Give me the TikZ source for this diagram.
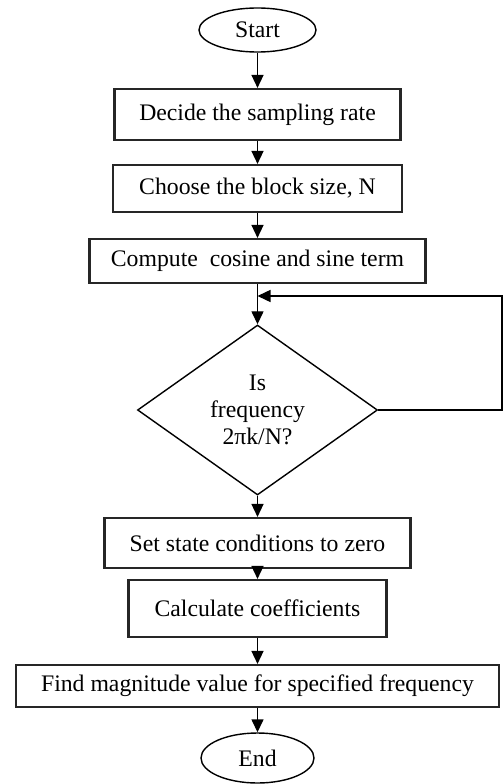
\documentclass[tikz,border=0pt]{standalone}
\usepackage{fontspec}
\setmainfont{Liberation Serif}
\usepackage{tikz}
\usetikzlibrary{shapes.geometric, arrows.meta}

\begin{document}
\begin{tikzpicture}[
    font=\fontsize{13.5}{15.5}\selectfont,
    term/.style={draw, ellipse, line width=0.8pt, inner sep=0pt},
    procbox/.style={draw=black!85, line width=1.2pt, inner sep=0pt},
    decide/.style={draw, diamond, line width=0.8pt, inner sep=0pt, shape aspect=1.4, align=center},
    arr/.style={line width=0.8pt, -{Triangle[length=2.6mm, width=2.4mm]}}]
    \useasboundingbox (0,0) rectangle (10.06,-15.68);

    \node[term, minimum width=2.34cm, minimum height=0.88cm] (start) at (5.15,-0.60) {Start};
    \node[procbox, minimum width=5.72cm, minimum height=1.02cm] (rate) at (5.15,-2.29) {Decide the sampling rate};
    \node[procbox, minimum width=5.78cm, minimum height=0.94cm] (block) at (5.15,-3.77) {Choose the block size, N};
    \node[procbox, minimum width=6.72cm, minimum height=0.88cm] (terms) at (5.15,-5.22) {Compute\ \ cosine and sine term};
    \node[decide, minimum width=4.80cm, minimum height=3.40cm] (freq) at (5.15,-8.20) {Is\\frequency\\2πk/N?};
    \node[procbox, minimum width=6.12cm, minimum height=1.00cm] (state) at (5.15,-10.86) {Set state conditions to zero};
    \node[procbox, minimum width=5.16cm, minimum height=1.14cm] (coeff) at (5.15,-12.17) {Calculate\ coefficients};
    \node[procbox, minimum width=9.66cm, minimum height=0.84cm] (mag) at (5.15,-13.72) {Find magnitude\ value\ for specified\ frequency};
    \node[term, minimum width=2.26cm, minimum height=1.00cm] (end) at (5.15,-15.16) {End};

    \coordinate (loop) at (10.04,-5.92);

    \draw[arr] (start) -- (rate);
    \draw[arr] (rate) -- (block);
    \draw[arr] (block) -- (terms);
    \draw[arr] (terms) -- (freq);
    \draw[arr] (freq.east) -| (loop) -- (freq.north |- loop);
    \draw[arr] (freq) -- (state);
    \draw[arr] (state) -- (coeff);
    \draw[arr] (coeff) -- (mag);
    \draw[arr] (mag) -- (end);
\end{tikzpicture}
\end{document}
